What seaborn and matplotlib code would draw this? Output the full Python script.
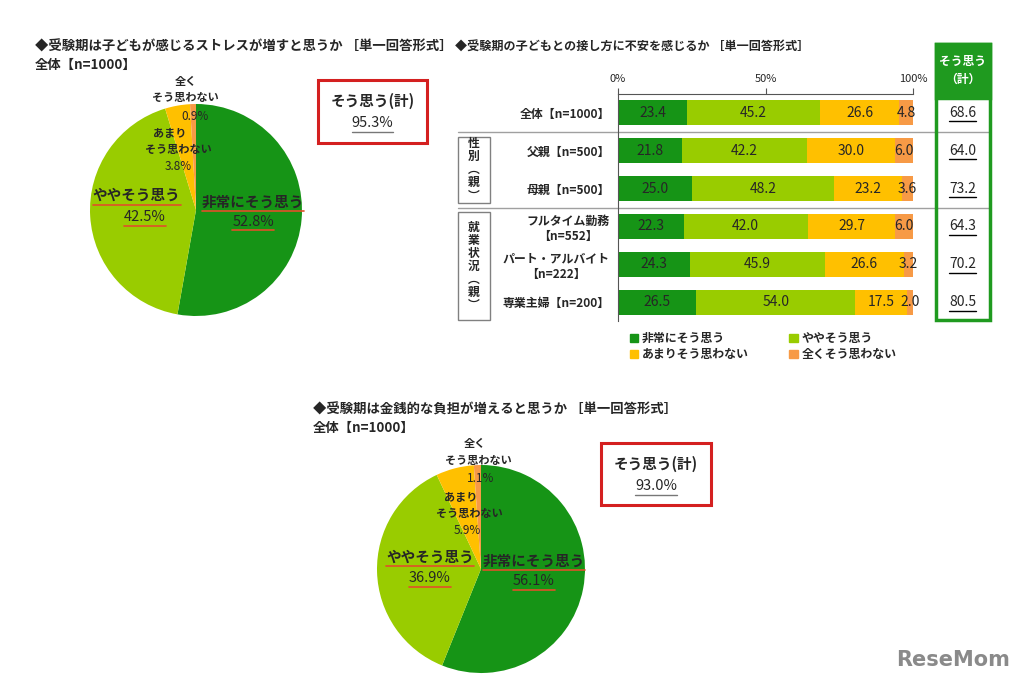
import matplotlib
matplotlib.use('Agg')
import matplotlib.pyplot as plt
from matplotlib.patches import Rectangle, Patch
from matplotlib.lines import Line2D
import seaborn as sns
import pandas as pd

# ---- data ----
ANSWERS = ['非常にそう思う', 'ややそう思う', 'あまりそう思わない', '全くそう思わない']

PIE1_VALUES = [52.8, 42.5, 3.8, 0.9]
PIE1_TOTAL = 95.3
PIE2_VALUES = [56.1, 36.9, 5.9, 1.1]
PIE2_TOTAL = 93.0

BAR_ROWS = ['全体【n=1000】', '父親【n=500】', '母親【n=500】',
            'フルタイム勤務\n【n=552】', 'パート・アルバイト\n【n=222】', '専業主婦【n=200】']
BAR_VERY = [23.4, 21.8, 25.0, 22.3, 24.3, 26.5]
BAR_SOME = [45.2, 42.2, 48.2, 42.0, 45.9, 54.0]
BAR_LITTLE = [26.6, 30.0, 23.2, 29.7, 26.6, 17.5]
BAR_NONE = [4.8, 6.0, 3.6, 6.0, 3.2, 2.0]
BAR_TOTAL = [68.6, 64.0, 73.2, 64.3, 70.2, 80.5]
BAR_TICKS = [0, 50, 100]

COLORS = ['#169416', '#99cc00', '#ffc000', '#f79a46']
GREEN_BOX = '#1f9a1f'
RED_BOX = '#d42020'
UL_RED = '#e0502a'

sns.set_style('white')
plt.rcParams['font.family'] = ['Noto Sans CJK JP', 'DejaVu Sans']

W, H = 1023, 682
fig = plt.figure(figsize=(W / 100, H / 100), dpi=100)
renderer = fig.canvas.get_renderer()


def fx(x):
    return x / W


def fy(y):
    return 1 - y / H


def ftext(x, y, s, **kw):
    kw.setdefault('va', 'center')
    return fig.text(fx(x), fy(y), s, **kw)


def underline(t, color, lw=1.2, pad=1.5):
    bb = t.get_window_extent(renderer)
    fig.add_artist(Line2D([bb.x0 / W, bb.x1 / W], [(bb.y0 - pad) / H] * 2,
                          transform=fig.transFigure, color=color, lw=lw))


def red_box(x0, y0, x1, y1, total):
    fig.add_artist(Rectangle((fx(x0), fy(y1)), (x1 - x0) / W, (y1 - y0) / H,
                             transform=fig.transFigure, fill=False,
                             edgecolor=RED_BOX, lw=2.2))
    cx = (x0 + x1) / 2
    ftext(cx, y0 + 21, 'そう思う(計)', ha='center', fontsize=10.5, weight='bold')
    t = ftext(cx, y0 + 43, f'{total:.1f}%', ha='center', fontsize=10.5)
    underline(t, '#777777', lw=1.0)


def draw_pie(cx, cy, r, values, pos):
    lim = 1.6
    ax = fig.add_axes([fx(cx - lim * r), fy(cy + lim * r), 2 * lim * r / W, 2 * lim * r / H])
    ax.pie(values, colors=COLORS, startangle=90, counterclock=False,
           wedgeprops=dict(linewidth=0))
    ax.set_xlim(-lim, lim)
    ax.set_ylim(-lim, lim)
    ax.set_aspect('equal')
    ax.axis('off')
    # small slices: name lines + percent
    ax.text(*pos['none1'], '全く', ha='center', va='center', fontsize=8, weight='bold')
    ax.text(*pos['none2'], 'そう思わない', ha='center', va='center', fontsize=8, weight='bold')
    ax.text(*pos['none3'], f'{values[3]:.1f}%', ha='center', va='center', fontsize=8.5)
    ax.text(*pos['lit1'], 'あまり', ha='center', va='center', fontsize=8, weight='bold')
    ax.text(*pos['lit2'], 'そう思わない', ha='center', va='center', fontsize=8, weight='bold')
    ax.text(*pos['lit3'], f'{values[2]:.1f}%', ha='center', va='center', fontsize=8.5)
    # big slices, underlined
    for key, name, v in [('some', 'ややそう思う', values[1]), ('very', '非常にそう思う', values[0])]:
        t1 = ax.text(*pos[key + '1'], name, ha='center', va='center', fontsize=10.5, weight='bold')
        t2 = ax.text(*pos[key + '2'], f'{v:.1f}%', ha='center', va='center', fontsize=10.5)
        underline(t1, UL_RED)
        underline(t2, UL_RED)
    return ax


# ---- pie 1 ----
ftext(35, 47, '◆受験期は子どもが感じるストレスが増すと思うか ［単一回答形式］', fontsize=9.6, weight='bold')
ftext(35, 65, '全体【n=1000】', fontsize=9.6, weight='bold')
pie1_pos = {'none1': (-0.10, 1.21), 'none2': (-0.10, 1.06), 'none3': (-0.01, 0.88),
            'lit1': (-0.25, 0.72), 'lit2': (-0.17, 0.57), 'lit3': (-0.17, 0.41),
            'some1': (-0.56, 0.14), 'some2': (-0.48, -0.07),
            'very1': (0.54, 0.08), 'very2': (0.54, -0.11)}
draw_pie(196, 210, 106, PIE1_VALUES, pie1_pos)
red_box(318, 80, 427, 143, PIE1_TOTAL)

# ---- pie 2 ----
ftext(313, 410, '◆受験期は金銭的な負担が増えると思うか ［単一回答形式］', fontsize=9.6, weight='bold')
ftext(313, 428, '全体【n=1000】', fontsize=9.6, weight='bold')
pie2_pos = {'none1': (-0.06, 1.21), 'none2': (-0.03, 1.04), 'none3': (0.0, 0.87),
            'lit1': (-0.20, 0.69), 'lit2': (-0.11, 0.53), 'lit3': (-0.13, 0.37),
            'some1': (-0.49, 0.12), 'some2': (-0.49, -0.09),
            'very1': (0.51, 0.08), 'very2': (0.51, -0.12)}
draw_pie(481, 569, 104, PIE2_VALUES, pie2_pos)
red_box(601, 443, 711, 505, PIE2_TOTAL)

# ---- stacked bars ----
ftext(455, 47, '◆受験期の子どもとの接し方に不安を感じるか ［単一回答形式］', fontsize=8.7, weight='bold')

df = pd.DataFrame({'row': BAR_ROWS, ANSWERS[0]: BAR_VERY, ANSWERS[1]: BAR_SOME,
                   ANSWERS[2]: BAR_LITTLE, ANSWERS[3]: BAR_NONE})
cum = df[ANSWERS].cumsum(axis=1)

x0, x1, y0, y1 = 618, 913, 94, 321
ax = fig.add_axes([fx(x0), fy(y1), (x1 - x0) / W, (y1 - y0) / H])
for i in reversed(range(4)):
    sns.barplot(x=cum[ANSWERS[i]], y=df['row'], orient='h', color=COLORS[i],
                saturation=1, width=0.66, linewidth=0, ax=ax)
ax.set_xlim(0, 100)
ax.set_ylim(len(BAR_ROWS) - 0.5, -0.5)
ax.set_xlabel('')
ax.set_ylabel('')
ax.xaxis.tick_top()
ax.set_xticks(BAR_TICKS)
ax.set_xticklabels([f'{t}%' for t in BAR_TICKS], fontsize=8)
ax.tick_params(axis='x', length=4, width=0.8, color='#555555', pad=3)
ax.tick_params(axis='y', length=0, pad=6, labelsize=8.6)
for lbl in ax.get_yticklabels():
    lbl.set_fontweight('bold')
    lbl.set_multialignment('center')
for s in ['right', 'bottom']:
    ax.spines[s].set_visible(False)
for s in ['left', 'top']:
    ax.spines[s].set_color('#555555')
    ax.spines[s].set_linewidth(0.8)

for r in range(len(BAR_ROWS)):
    for c in ANSWERS:
        v = df.loc[r, c]
        ax.text(cum.loc[r, c] - v / 2, r, f'{v:.1f}', ha='center', va='center', fontsize=10)
    t = ax.text(116.9, r, f'{BAR_TOTAL[r]:.1f}', ha='center', va='center', fontsize=10)
    underline(t, 'black', lw=1.0)

# separators and group boxes
scale = (x1 - x0) / 100
for yv in [0.5, 2.5]:
    ax.plot([(458 - x0) / scale, (990 - x0) / scale], [yv, yv], color='#a0a0a0', lw=1, clip_on=False)
gx0, gx1 = (458 - x0) / scale, (490 - x0) / scale
for (ya, yb, label) in [(0.63, 2.38, '性\n別\n︵\n親\n︶'), (2.62, 5.48, '就\n業\n状\n況\n︵\n親\n︶')]:
    ax.add_patch(Rectangle((gx0, ya), gx1 - gx0, yb - ya, fill=False, edgecolor='#808080',
                           lw=1, clip_on=False))
    ax.text((gx0 + gx1) / 2, (ya + yb) / 2, label, ha='center', va='center', fontsize=8.5,
            weight='bold', linespacing=1.0, clip_on=False)

# green total column
fig.add_artist(Rectangle((fx(936), fy(320)), 54 / W, 276 / H, transform=fig.transFigure,
                         fill=False, edgecolor=GREEN_BOX, lw=2.5))
fig.add_artist(Rectangle((fx(936), fy(98)), 54 / W, 54 / H, transform=fig.transFigure,
                         facecolor=GREEN_BOX, edgecolor=GREEN_BOX, lw=2.5))
ftext(963, 61, 'そう思う', ha='center', fontsize=8.5, weight='bold', color='white')
ftext(963, 79, '（計）', ha='center', fontsize=8.5, weight='bold', color='white')

# legend
handles = [Patch(color=COLORS[i], label=ANSWERS[i]) for i in [0, 2, 1, 3]]
fig.legend(handles=handles, ncol=2, loc='upper left', bbox_to_anchor=(fx(630), fy(332)),
           frameon=False, prop={'size': 8.6, 'weight': 'bold'}, handlelength=0.7,
           handleheight=0.7, handletextpad=0.3, columnspacing=3.4, labelspacing=0.25,
           borderaxespad=0, borderpad=0)

# logo
ftext(1010, 660, 'ReseMom', ha='right', fontsize=15, weight='bold', color='#8a8a8a',
      family=['DejaVu Sans'])

fig.savefig('out.png', dpi=100)
